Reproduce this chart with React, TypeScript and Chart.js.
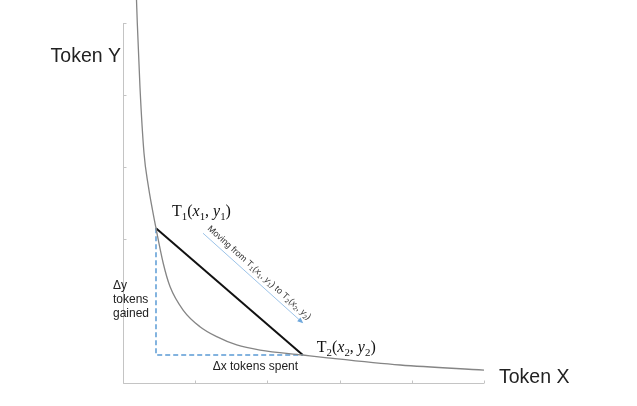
import React, { useEffect, useRef } from "react";
import { Chart, registerables } from "chart.js";

Chart.register(...registerables);

// Curve (Token X vs Token Y)
const curveX = [0.187, 0.198, 0.235, 0.291, 0.35, 0.457, 0.558, 0.651, 0.835, 1.066, 1.298, 1.575, 1.898, 2.49, 2.83, 3.84, 5.0];
const curveY = [5.32, 5.0, 4.11, 3.19, 2.74, 2.15, 1.66, 1.34, 1.01, 0.782, 0.643, 0.528, 0.458, 0.389, 0.35, 0.25, 0.18];
// Trade points
const t1 = { x: 0.457, y: 2.15 };
const t2 = { x: 2.49, y: 0.389 };
// Axis ticks (no labels)
const xTicks = [0, 1, 2, 3, 4, 5];
const yTicks = [0, 1, 2, 3, 4, 5];
const xTitle = "Token X";
const yTitle = "Token Y";
const dxLabel = "Δx tokens spent";
const dyLabel = ["Δy", "tokens", "gained"];

type Seg = { t: string; italic?: boolean; sub?: boolean };

function tLabel(n: string): Seg[] {
  return [
    { t: "T" },
    { t: n, sub: true },
    { t: "(" },
    { t: "x", italic: true },
    { t: n, sub: true },
    { t: ", " },
    { t: "y", italic: true },
    { t: n, sub: true },
    { t: ")" },
  ];
}

function drawRich(ctx: CanvasRenderingContext2D, segs: Seg[], x: number, y: number, size: number, family: string) {
  let cx = x;
  for (const s of segs) {
    const fs = s.sub ? size * 0.68 : size;
    ctx.font = `${s.italic ? "italic " : ""}${fs}px ${family}`;
    ctx.fillText(s.t, cx, s.sub ? y + size * 0.22 : y);
    cx += ctx.measureText(s.t).width;
  }
}

const annotPlugin = {
  id: "annot",
  beforeDatasetsDraw(chart: any) {
    const ctx: CanvasRenderingContext2D = chart.ctx;
    const xs = chart.scales.x;
    const ys = chart.scales.y;
    const { left, right, top, bottom } = chart.chartArea;
    ctx.save();
    ctx.strokeStyle = "#c4c4c4";
    ctx.lineWidth = 1;
    ctx.beginPath();
    const l = Math.round(left) + 0.5;
    const b = Math.round(bottom) + 0.5;
    ctx.moveTo(l, top);
    ctx.lineTo(l, b);
    ctx.lineTo(right, b);
    for (const v of xTicks) {
      const px = Math.round(xs.getPixelForValue(v)) + 0.5;
      ctx.moveTo(px, b);
      ctx.lineTo(px, b - 3);
    }
    for (const v of yTicks) {
      const py = Math.round(ys.getPixelForValue(v)) + 0.5;
      ctx.moveTo(l, py);
      ctx.lineTo(l + 3, py);
    }
    ctx.stroke();
    ctx.restore();
  },
  afterDatasetsDraw(chart: any) {
    const ctx: CanvasRenderingContext2D = chart.ctx;
    const xs = chart.scales.x;
    const ys = chart.scales.y;
    const { left, right, top, bottom } = chart.chartArea;
    const p1 = { x: xs.getPixelForValue(t1.x), y: ys.getPixelForValue(t1.y) };
    const p2 = { x: xs.getPixelForValue(t2.x), y: ys.getPixelForValue(t2.y) };
    const sans = "'Liberation Sans', Arial, sans-serif";
    const serif = "'Liberation Serif', 'DejaVu Serif', serif";
    ctx.save();
    ctx.fillStyle = "#222";
    ctx.textBaseline = "alphabetic";

    // Axis titles
    ctx.font = `19.5px ${sans}`;
    ctx.textAlign = "right";
    ctx.fillText(yTitle, left - 2, top + 39);
    ctx.textAlign = "left";
    ctx.fillText(xTitle, right + 15, bottom);

    // Point labels
    ctx.fillStyle = "#111";
    drawRich(ctx, tLabel("1"), p1.x + 16, p1.y - 12, 16, serif);
    drawRich(ctx, tLabel("2"), p2.x + 14, p2.y - 3, 16, serif);

    // Δ labels
    ctx.fillStyle = "#222";
    ctx.font = `12px ${sans}`;
    ctx.textAlign = "left";
    dyLabel.forEach((s, i) => ctx.fillText(s, left - 10, p2.y - 66 + i * 14));
    ctx.textAlign = "center";
    ctx.fillText(dxLabel, (p1.x + p2.x) / 2 + 26, p2.y + 15);

    // Arrow
    const a0 = { x: p1.x + 47, y: p1.y + 5 };
    const a1 = { x: p2.x - 1, y: p2.y - 33 };
    const ang = Math.atan2(a1.y - a0.y, a1.x - a0.x);
    ctx.strokeStyle = "#9cc3e8";
    ctx.fillStyle = "#6fa8dc";
    ctx.lineWidth = 1;
    ctx.beginPath();
    ctx.moveTo(a0.x, a0.y);
    ctx.lineTo(a1.x, a1.y);
    ctx.stroke();
    ctx.save();
    ctx.translate(a1.x, a1.y);
    ctx.rotate(ang);
    ctx.beginPath();
    ctx.moveTo(2, 0);
    ctx.lineTo(-4, -2.5);
    ctx.lineTo(-4, 2.5);
    ctx.closePath();
    ctx.fill();
    ctx.restore();

    // Rotated caption
    ctx.save();
    ctx.translate(a0.x + 4, a0.y - 4);
    ctx.rotate(ang);
    ctx.fillStyle = "#333";
    ctx.textAlign = "left";
    const segs: Seg[] = [{ t: "Moving from " }, ...tLabel("1"), { t: " to " }, ...tLabel("2")];
    drawRich(ctx, segs, 0, 0, 9, sans);
    ctx.restore();

    ctx.restore();
  },
};

export default function App() {
  const ref = useRef<HTMLCanvasElement | null>(null);
  useEffect(() => {
    if (!ref.current) return;
    const curve = curveX.map((x, i) => ({ x, y: curveY[i] }));
    const chart = new Chart(ref.current, {
      type: "line",
      data: {
        datasets: [
          {
            data: curve,
            borderColor: "#858585",
            borderWidth: 1.3,
            pointRadius: 0,
            cubicInterpolationMode: "monotone",
            clip: false as any,
          },
          {
            data: [
              { x: t1.x, y: t1.y },
              { x: t1.x, y: t2.y },
              { x: t2.x, y: t2.y },
            ],
            borderColor: "#5b9bd5",
            borderWidth: 1.5,
            borderDash: [5, 3],
            pointRadius: 0,
            tension: 0,
          },
          {
            data: [
              { x: t1.x, y: t1.y },
              { x: t2.x, y: t2.y },
            ],
            borderColor: "#111",
            borderWidth: 2,
            pointRadius: 0,
            tension: 0,
          },
        ],
      },
      options: {
        animation: false,
        responsive: true,
        maintainAspectRatio: false,
        layout: { padding: { left: 123, top: 23, right: 153, bottom: 23 } },
        plugins: { legend: { display: false }, tooltip: { enabled: false } },
        events: [],
        scales: {
          x: { type: "linear", min: 0, max: 5, display: false },
          y: { type: "linear", min: 0, max: 5, display: false },
        },
      },
      plugins: [annotPlugin],
    });
    return () => chart.destroy();
  }, []);
  return (
    <div style={{ position: "fixed", left: 0, top: 0, width: 637, height: 406, background: "#fff" }}>
      <canvas ref={ref} />
    </div>
  );
}
